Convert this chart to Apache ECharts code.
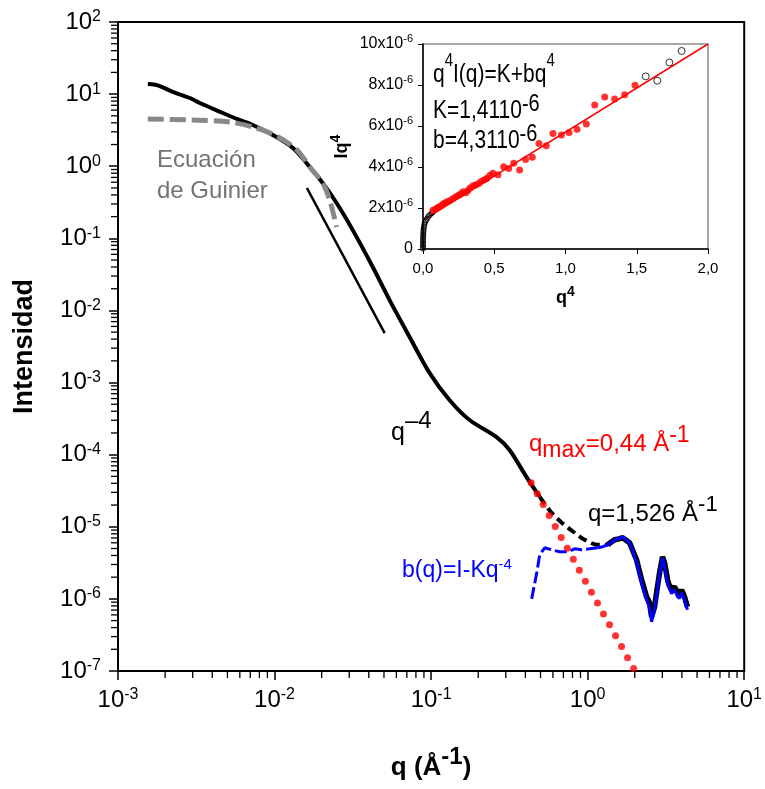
<!DOCTYPE html>
<html><head><meta charset="utf-8">
<script src="https://cdn.jsdelivr.net/npm/echarts@6/dist/echarts.min.js"></script>
<style>html,body{margin:0;padding:0;background:#fff}#c{width:765px;height:789px}</style>
</head><body><div id="c"></div>
<script>
// ---- Main plot data: q (1/Å), I(q) ----
const intensityLowQ = [[0.00155,13.8],[0.0017,13.6],[0.00185,12.9],[0.0023,10.5],[0.00288,8.83],[0.00333,7.53],[0.00468,5.47],[0.00574,4.52],[0.00726,3.73],[0.00975,2.71],[0.0131,1.79],[0.0168,0.975],[0.0203,0.585],[0.0249,0.309],[0.0316,0.130],[0.0424,0.040],[0.0543,0.0139],[0.0729,0.00428],[0.0977,0.00136],[0.131,0.000572],[0.176,0.000302],[0.262,0.000175],[0.317,0.000116],[0.407,4.89e-5],[0.494,2.61e-5]];
const intensityMidQ = [[0.494,2.61e-5],[0.509,2.37e-5],[0.589,1.56e-5],[0.683,1.14e-5],[0.826,8.26e-6],[0.957,6.6e-6],[1.158,5.63e-6],[1.342,5.63e-6]];
const intensityHighQ = [[1.342,5.63e-6],[1.41,6.1e-6],[1.486,6.6e-6],[1.58,6.8e-6],[1.672,7.04e-6],[1.853,6.0e-6],[2.054,3.48e-6],[2.211,1.84e-6],[2.379,1.07e-6],[2.486,8.83e-7],[2.561,5.65e-7],[2.676,7.77e-7],[2.755,1.22e-6],[2.88,2.3e-6],[3.01,3.84e-6],[3.099,3.17e-6],[3.239,1.84e-6],[3.3,1.6e-6],[3.436,1.34e-6],[3.52,1.3e-6],[3.589,1.47e-6],[3.67,1.5e-6],[3.752,1.22e-6],[3.87,1.15e-6],[3.98,1.34e-6],[4.07,1.3e-6],[4.157,1.07e-6],[4.25,0.9e-6],[4.345,7.77e-7]];
const guinierFit = [[0.00155,4.52],[0.00288,4.38],[0.00518,4.10],[0.00726,3.50],[0.0103,2.62],[0.0139,1.68],[0.0168,0.975],[0.0203,0.585],[0.0225,0.34],[0.0249,0.1435]];
const slopeGuide = [[0.0161,0.499],[0.0505,0.00486]];
const porodLaw = [[0.436,4.07e-5],[0.476,2.87e-5],[0.520,2.03e-5],[0.568,1.43e-5],[0.621,1.01e-5],[0.678,7.12e-6],[0.741,5.02e-6],[0.810,3.54e-6],[0.885,2.50e-6],[0.967,1.76e-6],[1.057,1.24e-6],[1.155,8.78e-7],[1.262,6.19e-7],[1.379,4.37e-7],[1.507,3.08e-7],[1.646,2.18e-7],[1.799,1.53e-7],[1.966,1.08e-7]];
const backgroundDashed = [[0.439,1.0e-6],[0.473,2.3e-6],[0.494,4.09e-6],[0.532,5.11e-6],[0.589,4.8e-6],[0.663,4.5e-6],[0.746,4.5e-6],[0.826,4.95e-6],[0.916,4.8e-6],[1.03,4.95e-6],[1.158,5.11e-6]];
const backgroundSolid = [[1.158,5.11e-6],[1.25,5.3e-6],[1.342,5.63e-6],[1.41,6.0e-6],[1.486,6.6e-6],[1.58,6.9e-6],[1.672,7.27e-6],[1.853,6.0e-6],[2.054,3.27e-6],[2.211,1.67e-6],[2.379,9.72e-7],[2.486,7.53e-7],[2.561,4.81e-7],[2.676,7.06e-7],[2.755,1.1e-6],[2.88,2.16e-6],[3.01,3.72e-6],[3.099,2.88e-6],[3.239,1.62e-6],[3.3,1.45e-6],[3.436,1.18e-6],[3.52,1.15e-6],[3.589,1.34e-6],[3.67,1.35e-6],[3.752,1.07e-6],[3.87,1.02e-6],[3.98,1.22e-6],[4.07,1.15e-6],[4.157,9.72e-7],[4.25,8.0e-7],[4.345,7.06e-7]];

// ---- Inset data: q^4 vs I·q^4 (in units of 1e-6) ----
const insetLowOpen = [[0,0.02],[0,0.08],[0,0.15],[0,0.22],[0,0.3],[0,0.38],[0.0005,0.46],[0.001,0.54],[0.0015,0.62],[0.002,0.7],[0.0025,0.78],[0.003,0.86],[0.004,0.94],[0.005,1.02],[0.007,1.1],[0.009,1.18],[0.012,1.26],[0.016,1.33],[0.021,1.4],[0.027,1.47],[0.034,1.55],[0.042,1.62],[0.05,1.67],[0.06,1.74],[0.07,1.8]];
const insetFitted = [[0.07,1.89],[0.09,1.95],[0.105,2.02],[0.12,2.08],[0.14,2.19],[0.155,2.25],[0.17,2.3],[0.19,2.36],[0.211,2.46],[0.23,2.55],[0.25,2.62],[0.265,2.68],[0.281,2.79],[0.3,2.75],[0.315,2.85],[0.33,2.98],[0.351,3.08],[0.37,3.12],[0.39,3.2],[0.41,3.3],[0.43,3.38],[0.45,3.45],[0.47,3.6],[0.491,3.69],[0.526,3.62],[0.566,4.01],[0.601,3.93],[0.636,4.18],[0.678,3.85],[0.72,4.37],[0.767,4.47],[0.814,5.15],[0.865,5.04],[0.912,5.64],[0.971,5.56],[1.025,5.68],[1.081,5.84],[1.146,6.1],[1.205,7.03],[1.275,7.41],[1.345,7.32],[1.415,7.52],[1.488,7.99]];
const insetHighOpen = [[1.563,8.42],[1.644,8.21],[1.729,9.1],[1.815,9.66]];
const insetLine = [[0,1.41],[2,10.0]];

// ---- Tick labels ----
const insetXTickLabels = ['0,0','0,5','1,0','1,5','2,0'];

const FF = 'Liberation Sans, Arial, sans-serif';
function minorValues(e0, e1){ const a=[]; for(let e=e0;e<e1;e++){ for(let m=2;m<=9;m++) a.push(+(m*Math.pow(10,e)).toPrecision(3)); } return a; }
const xMinor = minorValues(-3, 1);
const yMinor = minorValues(-7, 2);

const mainRich = {
  b:{fontSize:24, fontFamily:FF, color:'#000', lineHeight:24, verticalAlign:'bottom'},
  s:{fontSize:16, fontFamily:FF, color:'#000', lineHeight:16, verticalAlign:'bottom', padding:[0,0,9,0]}
};
const logLabel = v => '{b|10}{s|' + Math.round(Math.log10(v)) + '}';

const chart = echarts.init(document.getElementById('c'));
const gtext = (x, y, text, rich, extra) => Object.assign({type:'text', x, y, z:100, silent:true,
  style:{text, rich, verticalAlign:'bottom', align:'left', fill:'#000'}}, extra||{});

const option = {
  animation:false,
  backgroundColor:'#fff',
  grid:[
    {left:118, top:22, width:627, height:649, show:true, borderColor:'#000', borderWidth:2, backgroundColor:'transparent'},
    {left:423, top:44, width:285, height:205, show:true, borderColor:'#8c8c8c', borderWidth:1.5, backgroundColor:'transparent'}
  ],
  xAxis:[
    {type:'log', logBase:10, gridIndex:0, min:0.001, max:10,
     axisLine:{lineStyle:{color:'#000', width:2}},
     axisTick:{length:9, lineStyle:{color:'#000', width:1.5}},
     splitLine:{show:false},
     axisLabel:{margin:17, formatter:logLabel, rich:mainRich},
     name:'{b|q (Å}{s|-1}{b|)}', nameLocation:'middle', nameGap:84,
     nameTextStyle:{rich:{
       b:{fontSize:26, fontWeight:'bold', fontFamily:FF, color:'#000', lineHeight:26, verticalAlign:'bottom'},
       s:{fontSize:24, fontWeight:'bold', fontFamily:FF, color:'#000', lineHeight:24, verticalAlign:'bottom', padding:[0,0,12,0]}}}},
    {type:'value', gridIndex:1, min:0, max:2, interval:0.5,
     axisLine:{lineStyle:{color:'#000', width:1.5}},
     axisTick:{length:5, lineStyle:{color:'#000', width:1}},
     splitLine:{show:false},
     axisLabel:{margin:12, fontSize:15, fontFamily:FF, color:'#000', formatter:(v,i)=>insetXTickLabels[i]},
     name:'{b|q}{s|4}', nameLocation:'middle', nameGap:40,
     nameTextStyle:{rich:{
       b:{fontSize:18, fontWeight:'bold', fontFamily:FF, color:'#000', lineHeight:18, verticalAlign:'bottom'},
       s:{fontSize:14, fontWeight:'bold', fontFamily:FF, color:'#000', lineHeight:14, verticalAlign:'bottom', padding:[0,0,8,0]}}}}
  ],
  yAxis:[
    {type:'log', logBase:10, gridIndex:0, min:1e-7, max:100,
     axisLine:{lineStyle:{color:'#000', width:2}},
     axisTick:{length:9, lineStyle:{color:'#000', width:1.5}},
     splitLine:{show:false},
     axisLabel:{margin:17, formatter:logLabel, rich:mainRich},
     name:'Intensidad', nameLocation:'middle', nameGap:80,
     nameTextStyle:{fontSize:27, fontWeight:'bold', fontFamily:FF, color:'#000'}},
    {type:'value', gridIndex:1, min:0, max:10, interval:2,
     axisLine:{lineStyle:{color:'#000', width:1.5}},
     axisTick:{length:5, lineStyle:{color:'#000', width:1}},
     splitLine:{show:false},
     axisLabel:{margin:10, formatter:v => v===0 ? '{b|0}' : '{b|'+v+'x10}{s|-6}',
       rich:{b:{fontSize:16, fontFamily:FF, color:'#000', lineHeight:16, verticalAlign:'bottom'},
             s:{fontSize:11, fontFamily:FF, color:'#000', lineHeight:11, verticalAlign:'bottom', padding:[0,0,8,0]}}},
     name:'{b|Iq}{s|4}', nameLocation:'middle', nameGap:72,
     nameTextStyle:{rich:{
       b:{fontSize:18, fontWeight:'bold', fontFamily:FF, color:'#000', lineHeight:18, verticalAlign:'bottom'},
       s:{fontSize:14, fontWeight:'bold', fontFamily:FF, color:'#000', lineHeight:14, verticalAlign:'bottom', padding:[0,0,8,0]}}}}
  ],
  series:[
    {type:'custom', xAxisIndex:0, yAxisIndex:0, clip:false, silent:true, z:10,
     data:xMinor.map(v=>[v,1e-7]), encode:{x:0,y:1},
     renderItem:(p,api)=>{const c=api.coord([api.value(0),api.value(1)]);
       return {type:'line', shape:{x1:c[0],y1:c[1],x2:c[0],y2:c[1]+7}, style:{stroke:'#000', lineWidth:1.3}};}},
    {type:'custom', xAxisIndex:0, yAxisIndex:0, clip:false, silent:true, z:10,
     data:yMinor.map(v=>[0.001,v]), encode:{x:0,y:1},
     renderItem:(p,api)=>{const c=api.coord([api.value(0),api.value(1)]);
       return {type:'line', shape:{x1:c[0]-7,y1:c[1],x2:c[0],y2:c[1]}, style:{stroke:'#000', lineWidth:1.3}};}},
    {type:'line', xAxisIndex:0, yAxisIndex:0, data:intensityLowQ, symbol:'none', smooth:0.3, lineStyle:{color:'#000', width:4}, z:3},
    {type:'line', xAxisIndex:0, yAxisIndex:0, data:intensityMidQ, symbol:'none', smooth:0.3, lineStyle:{color:'#000', width:4, type:[9,5]}, z:3},
    {type:'line', xAxisIndex:0, yAxisIndex:0, data:intensityHighQ, symbol:'none', lineStyle:{color:'#000', width:5.5}, z:3},
    {type:'line', xAxisIndex:0, yAxisIndex:0, data:slopeGuide, symbol:'none', lineStyle:{color:'#000', width:2.5}, z:3},
    {type:'line', xAxisIndex:0, yAxisIndex:0, data:backgroundDashed, symbol:'none', lineStyle:{color:'#0000ff', width:3, type:[12,4]}, z:4},
    {type:'line', xAxisIndex:0, yAxisIndex:0, data:backgroundSolid, symbol:'none', lineStyle:{color:'#0000ff', width:3}, z:4},
    {type:'line', xAxisIndex:0, yAxisIndex:0, data:guinierFit, symbol:'none', smooth:0.3, lineStyle:{color:'#888888', width:5, type:[16,6]}, z:5},
    {type:'scatter', xAxisIndex:0, yAxisIndex:0, data:porodLaw, symbolSize:7, itemStyle:{color:'#ff0000'}, z:6},
    {type:'line', xAxisIndex:1, yAxisIndex:1, data:insetLine, symbol:'none', lineStyle:{color:'#ff0000', width:1.5}, z:7},
    {type:'scatter', xAxisIndex:1, yAxisIndex:1, data:insetLowOpen, symbolSize:5, itemStyle:{color:'rgba(255,255,255,0)', borderColor:'#000', borderWidth:1}, z:8},
    {type:'scatter', xAxisIndex:1, yAxisIndex:1, data:insetFitted, symbolSize:7, itemStyle:{color:'#ff0000'}, z:8},
    {type:'scatter', xAxisIndex:1, yAxisIndex:1, data:insetHighOpen, symbolSize:7, itemStyle:{color:'rgba(255,255,255,0)', borderColor:'#000', borderWidth:1}, z:8}
  ],
  graphic:[
    {type:'text', x:157, y:145, z:100, silent:true, style:{text:'Ecuación\nde Guinier', fill:'#737373', fontSize:24, fontFamily:FF, lineHeight:31, verticalAlign:'top'}},
    gtext(391, 446, '{b|q}{s|–4}', {
      b:{fontSize:25, fontFamily:FF, fill:'#000', lineHeight:25, verticalAlign:'bottom'},
      s:{fontSize:24, fontFamily:FF, fill:'#000', lineHeight:24, verticalAlign:'bottom', padding:[0,0,13,0]}}),
    gtext(529, 462, '{b|q}{m|max}{b|=0,44 Å}{s|-1}', {
      b:{fontSize:24, fontFamily:FF, fill:'#ff0000', lineHeight:24, verticalAlign:'bottom', padding:[0,0,6,0]},
      m:{fontSize:23, fontFamily:FF, fill:'#ff0000', lineHeight:23, verticalAlign:'bottom'},
      s:{fontSize:23, fontFamily:FF, fill:'#ff0000', lineHeight:23, verticalAlign:'bottom', padding:[0,0,15,0]}}),
    gtext(588, 526, '{b|q=1,526 Å}{s|-1}', {
      b:{fontSize:24, fontFamily:FF, fill:'#000', lineHeight:24, verticalAlign:'bottom'},
      s:{fontSize:22, fontFamily:FF, fill:'#000', lineHeight:22, verticalAlign:'bottom', padding:[0,0,10,0]}}),
    gtext(402, 582, '{b|b(q)=I-Kq}{s|-4}', {
      b:{fontSize:23, fontFamily:FF, fill:'#0000ff', lineHeight:23, verticalAlign:'bottom'},
      s:{fontSize:15, fontFamily:FF, fill:'#0000ff', lineHeight:15, verticalAlign:'bottom', padding:[0,0,10,0]}}),
    Object.assign(gtext(433, 62, '{b|q}{s|4}{b|I(q)=K+bq}{s|4}', {
      b:{fontSize:21, fontFamily:FF, fill:'#000', lineHeight:21, verticalAlign:'bottom'},
      s:{fontSize:15, fontFamily:FF, fill:'#000', lineHeight:15, verticalAlign:'bottom', padding:[0,0,14,0]}}), {scaleY:1.2}),
    Object.assign(gtext(433, 98, '{b|K=1,4110}{s|-6}', {
      b:{fontSize:21, fontFamily:FF, fill:'#000', lineHeight:21, verticalAlign:'bottom'},
      s:{fontSize:20, fontFamily:FF, fill:'#000', lineHeight:20, verticalAlign:'bottom', padding:[0,0,6,0]}}), {scaleY:1.2}),
    Object.assign(gtext(433, 128, '{b|b=4,3110}{s|-6}', {
      b:{fontSize:21, fontFamily:FF, fill:'#000', lineHeight:21, verticalAlign:'bottom'},
      s:{fontSize:20, fontFamily:FF, fill:'#000', lineHeight:20, verticalAlign:'bottom', padding:[0,0,6,0]}}), {scaleY:1.2})
  ]
};
// inset annotation texts are anchored at their top
option.graphic.slice(5).forEach(g => { g.style.verticalAlign = 'top'; });
chart.setOption(option);
</script></body></html>
